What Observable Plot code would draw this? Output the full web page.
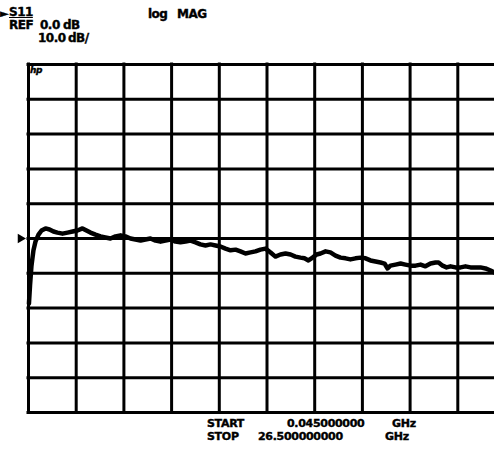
<!DOCTYPE html>
<html>
<head>
<meta charset="utf-8">
<script src="https://cdn.jsdelivr.net/npm/d3@7"></script>
<script src="https://cdn.jsdelivr.net/npm/@observablehq/plot@0.6"></script>
<style>
  html, body { margin: 0; padding: 0; background: #fff; overflow: hidden; }
  #wrap { position: relative; width: 494px; height: 452px; overflow: hidden; }
  #chart { position: absolute; left: 0; top: 0; }
  .t { position: absolute; font-family: "DejaVu Sans", sans-serif; font-weight: bold; font-size: 12px; color: #000; white-space: pre; line-height: 1; letter-spacing: -0.5px; -webkit-text-stroke: 0.4px #000; }
  .b { font-size: 11px; letter-spacing: -0.3px; }
</style>
</head>
<body>
<div id="wrap">
  <div id="chart"></div>
  <div class="t" style="left:0px;top:8px;font-size:11px;">►</div>
  <div class="t" style="left:9px;top:6px;text-decoration:underline;">S11</div>
  <div class="t" style="left:9px;top:19px;">REF</div>
  <div class="t" style="left:40px;top:19px;">0.0</div>
  <div class="t" style="left:63px;top:19px;">dB</div>
  <div class="t" style="left:38px;top:32px;">10.0</div>
  <div class="t" style="left:68px;top:32px;">dB/</div>
  <div class="t" style="left:148px;top:8px;">log</div>
  <div class="t" style="left:177px;top:8px;">MAG</div>
  <div class="t" style="left:30px;top:66px;font-size:9px;font-style:italic;">hp</div>
  <div class="t b" style="left:207px;top:418px;">START</div>
  <div class="t b" style="left:287px;top:418px;">0.045000000</div>
  <div class="t b" style="left:392px;top:418px;">GHz</div>
  <div class="t b" style="left:207px;top:431px;">STOP</div>
  <div class="t b" style="left:258px;top:431px;">26.500000000</div>
  <div class="t b" style="left:385px;top:431px;">GHz</div>
</div>
<script>
const freqGHz = [0.07,0.13,0.21,0.32,0.43,0.60,0.77,0.99,1.21,1.43,1.65,1.93,2.21,2.49,2.76,3.04,3.26,3.48,3.76,4.04,
  4.31,4.59,4.87,5.15,5.42,5.70,5.98,6.26,6.53,6.81,7.09,7.37,7.64,7.92,8.20,8.47,8.75,9.03,9.31,9.58,
  9.86,10.14,10.42,10.69,10.97,11.25,11.53,11.80,12.08,12.36,12.63,12.91,13.19,13.47,13.74,14.02,14.30,14.58,14.85,15.13,
  15.35,15.57,15.80,16.02,16.24,16.52,16.79,17.07,17.35,17.63,17.90,18.18,18.46,18.74,19.01,19.29,19.57,19.79,19.96,20.12,
  20.40,20.68,20.95,21.23,21.51,21.79,22.06,22.34,22.62,22.79,23.01,23.23,23.45,23.73,24.01,24.28,24.56,24.84,25.11,25.39,
  25.67,25.89,26.50];
const magDB = [-18.7,-13.5,-7.8,-3.4,-0.9,1.1,2.3,2.9,2.6,2.0,1.7,1.4,1.7,2.0,2.3,2.9,2.3,1.7,1.1,0.6,
  0.3,0.0,0.6,0.9,0.6,0.0,-0.3,-0.6,-0.3,0.0,-0.6,-0.9,-0.6,-0.3,-0.9,-1.1,-0.9,-0.6,-1.1,-1.7,
  -2.0,-1.7,-2.0,-2.3,-2.9,-3.4,-3.2,-3.7,-4.3,-4.0,-3.7,-3.2,-2.9,-4.0,-5.2,-4.6,-4.3,-4.6,-5.2,-5.5,
  -5.7,-6.3,-5.5,-4.6,-4.3,-3.7,-4.0,-4.9,-5.5,-5.7,-6.0,-5.7,-5.5,-5.7,-6.3,-6.6,-6.9,-7.2,-8.6,-7.8,
  -7.5,-7.2,-7.5,-7.8,-7.8,-7.5,-8.0,-7.2,-6.9,-6.9,-7.8,-8.3,-8.0,-8.3,-8.3,-8.0,-8.3,-8.3,-8.3,-8.6,
  -9.2,-9.8,-10.1];

// Graticule: 10 divisions each way
const startGHz = 0.045, stopGHz = 26.5;
const refDB = 0, scaleDB = 10;
const xGrid = d3.range(11).map(i => startGHz + i * (stopGHz - startGHz) / 10);
const yGrid = d3.range(-5, 6).map(i => refDB + i * scaleDB);
const yMin = refDB - 5 * scaleDB, yMax = refDB + 5 * scaleDB;

const data = freqGHz.map((f, i) => ({f, db: magDB[i]}));

const chart = Plot.plot({
  width: 494,
  height: 452,
  x: {domain: [startGHz, stopGHz], range: [28, 505], axis: null},
  y: {domain: [yMin, yMax], range: [412, 64], axis: null},
  marks: [
    Plot.ruleX(xGrid, {x: d => d, y1: yMin, y2: yMax, stroke: "#000", strokeWidth: 3, strokeOpacity: 1, strokeLinecap: "square"}),
    Plot.ruleY(yGrid, {y: d => d, x1: startGHz, x2: stopGHz, stroke: "#000", strokeWidth: 3, strokeOpacity: 1, strokeLinecap: "square"}),
    Plot.line(data, {x: "f", y: "db", stroke: "#000", strokeWidth: 4.5, strokeLinejoin: "round", strokeLinecap: "round"}),
    Plot.dot([refDB], {x: startGHz, y: d => d, symbol: "triangle", rotate: 90, r: 3.5, dx: -8, fill: "#000", stroke: "none"})
  ]
});
document.getElementById("chart").appendChild(chart);
</script>
</body>
</html>
